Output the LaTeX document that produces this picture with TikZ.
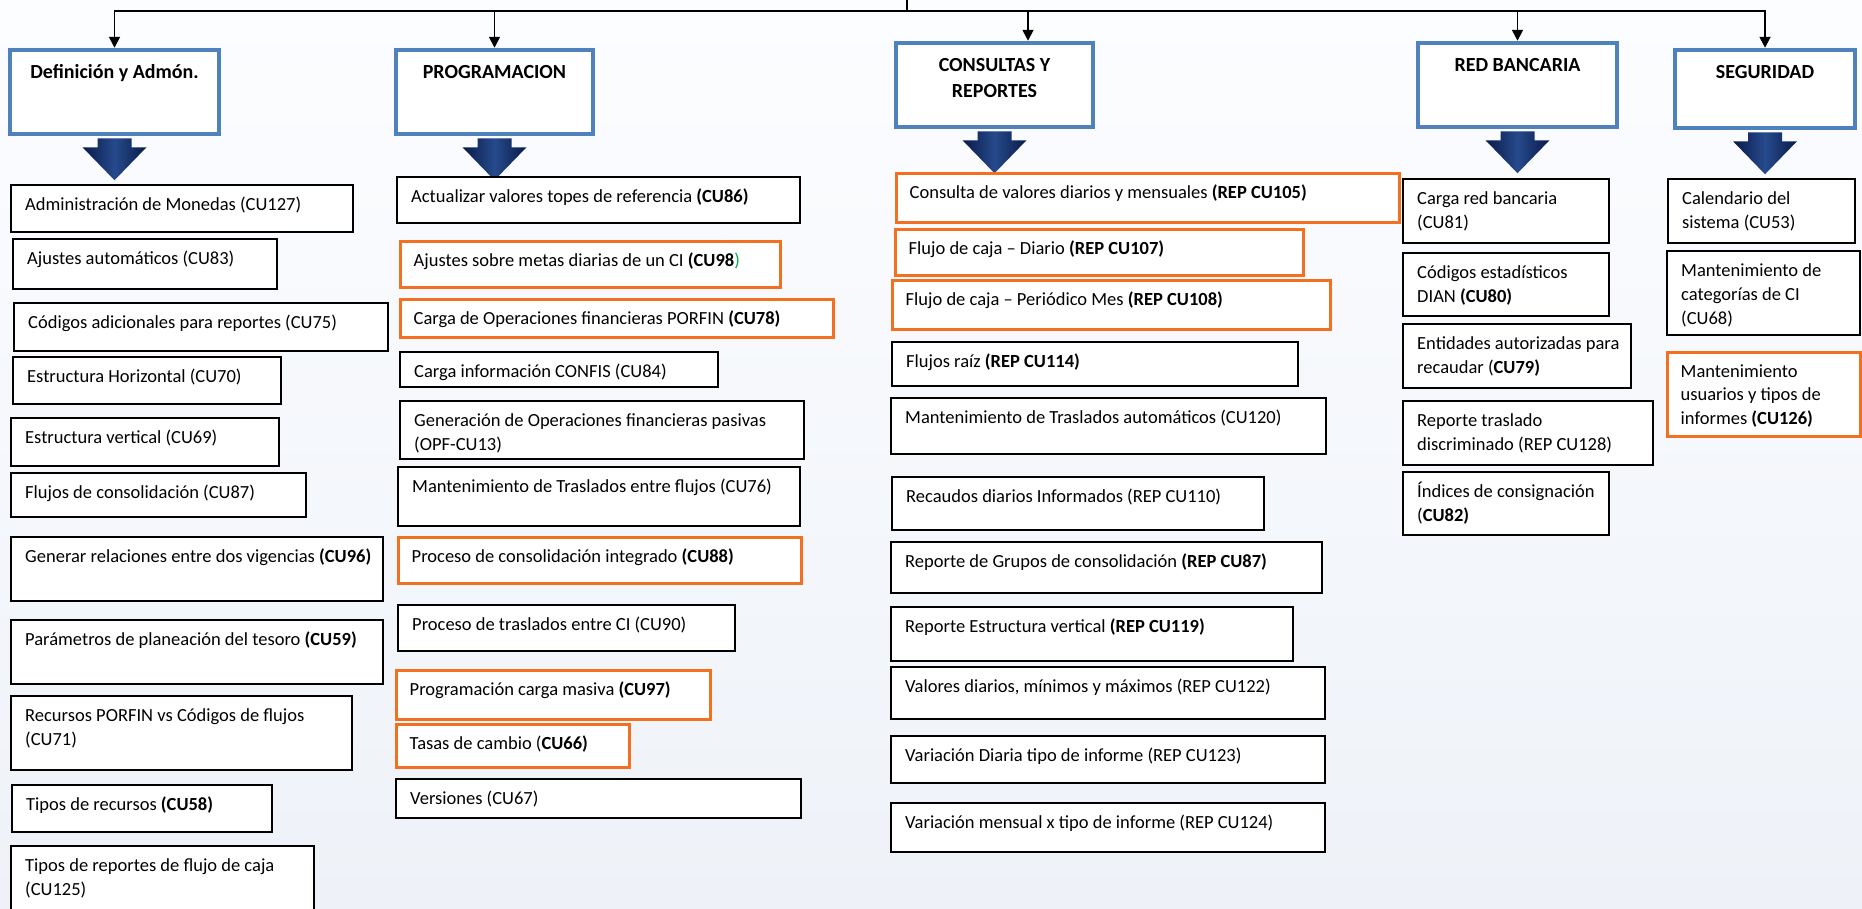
\documentclass[tikz,border=0pt]{standalone}
\usepackage{fontspec}
\setmainfont{Carlito}
\usetikzlibrary{arrows.meta}
\definecolor{hdrblue}{RGB}{79,129,189}
\definecolor{orng}{RGB}{242,112,32}
\definecolor{cugreen}{RGB}{0,176,80}
\definecolor{arrdark}{RGB}{10,26,72}
\definecolor{arrmid}{RGB}{38,74,140}
\definecolor{bgtop}{RGB}{252,253,255}
\definecolor{bgbot}{RGB}{238,242,248}
\tikzset{
 itembox/.style={draw=black, line width=2pt, fill=white, inner sep=0pt, rectangle},
 orangebox/.style={draw=orng, line width=3pt, fill=white, inner sep=0pt, rectangle},
 hdrbox/.style={draw=hdrblue, line width=4.5pt, fill=white, inner sep=0pt, rectangle},
 itemtext/.style={anchor=north west, inner sep=0pt, align=left, font=\fontsize{18.5}{23.8}\selectfont},
 hdrtext/.style={anchor=north, inner sep=0pt, align=center, font=\bfseries\fontsize{20}{26}\selectfont},
 conn/.style={line width=1.8pt, -{Triangle[width=11pt,length=11pt]}},
 busline/.style={line width=1.8pt},
 bigarrow/.style={left color=arrdark, right color=arrdark, middle color=arrmid, draw=none}
}
\newcommand\itembx[7]{%
 \node[#1, minimum width=#5pt-#3pt, minimum height=#6pt-#4pt] (#2) at ({(#3+#5)/2},{(#4+#6)/2}) {};
 \node[itemtext] (#2-t) at ([xshift=15pt,yshift=-9.8pt]#2.north west) {\strut #7};
}
\newcommand\headbox[6]{%
 \node[hdrbox, minimum width=#4pt-#2pt, minimum height=#5pt-#3pt] (#1) at ({(#2+#4)/2},{(#3+#5)/2}) {};
 \node[hdrtext] (#1-t) at ([yshift=-12.8pt]#1.north) {\strut #6};
}
\newcommand\bigarr[1]{%
 \shade[bigarrow] ([xshift=-17pt,yshift=-2pt]#1.south) -- ([xshift=-17pt,yshift=-11pt]#1.south) -- ([xshift=-32pt,yshift=-11pt]#1.south) -- ([yshift=-44pt]#1.south) -- ([xshift=32pt,yshift=-11pt]#1.south) -- ([xshift=17pt,yshift=-11pt]#1.south) -- ([xshift=17pt,yshift=-2pt]#1.south) -- cycle;
}
\begin{document}
\begin{tikzpicture}[x=1pt,y=-1pt]
\useasboundingbox (0,0) rectangle (1862,908);
\clip (0,0) rectangle (1862,908);
\shade[top color=bgtop, bottom color=bgbot] (0,0) rectangle (1862,908);

% headers
\headbox{hdef}{10}{50}{219}{134}{Definición y Admón.}
\headbox{hprog}{396}{50}{593}{134}{PROGRAMACION}
\headbox{hcons}{896}{43}{1093}{127}{CONSULTAS Y\\REPORTES}
\headbox{hred}{1418}{43}{1617}{127}{RED BANCARIA}
\headbox{hseg}{1675}{50}{1855}{128}{SEGURIDAD}

% top bus
\coordinate (src) at (907,0);
\coordinate (bus) at (907,11);
\draw[busline] (src) -- (bus);
\draw[conn] (bus) -| (hdef.north);
\draw[conn] (bus) -| (hprog.north);
\draw[conn] (bus) -| ([xshift=33.5pt]hcons.north);
\draw[conn] (bus) -| (hred.north);
\draw[conn] (bus) -| (hseg.north);

% big arrows
\bigarr{hdef}
\bigarr{hprog}
\bigarr{hcons}
\bigarr{hred}
\bigarr{hseg}

% column 1
\itembx{itembox}{c1a}{11}{185}{353}{232}{Administración de Monedas (CU127)}
\itembx{itembox}{c1b}{13}{239}{277}{289}{Ajustes automáticos (CU83)}
\itembx{itembox}{c1c}{14}{303}{388}{351}{Códigos adicionales\ para reportes (CU75)}
\itembx{itembox}{c1d}{13}{357}{281}{404}{Estructura Horizontal (CU70)}
\itembx{itembox}{c1e}{11}{418}{279}{466}{Estructura vertical (CU69)}
\itembx{itembox}{c1f}{11}{473}{306}{517}{Flujos de consolidación (CU87)}
\itembx{itembox}{c1g}{11}{537}{383}{601}{Generar relaciones entre dos vigencias \textbf{(CU96)}}
\itembx{itembox}{c1h}{11}{620}{383}{684}{Parámetros de planeación del tesoro \textbf{(CU59)}}
\itembx{itembox}{c1i}{11}{696}{352}{770}{Recursos PORFIN vs Códigos de flujos\\(CU71)}
\itembx{itembox}{c1j}{12}{785}{272}{832}{Tipos de recursos \textbf{(CU58)}}
\itembx{itembox}{c1k}{11}{846}{314}{916}{Tipos de reportes de flujo de caja\\(CU125)}

% column 2
\itembx{itembox}{c2a}{397}{177}{800}{223}{Actualizar valores topes de referencia \textbf{(CU86)}}
\itembx{orangebox}{c2b}{400}{241}{780}{287}{Ajustes sobre metas diarias de un CI \textbf{(CU98}\textcolor{cugreen}{)}}
\itembx{orangebox}{c2c}{400}{299}{833}{337}{Carga de Operaciones financieras PORFIN \textbf{(CU78)}}
\itembx{itembox}{c2d}{400}{352}{718}{387}{Carga información CONFIS (CU84)}
\itembx{itembox}{c2e}{400}{401}{804}{459}{Generación de Operaciones financieras pasivas\\(OPF-CU13)}
\itembx{itembox}{c2f}{398}{467}{800}{526}{Mantenimiento\ de Traslados entre flujos (CU76)}
\itembx{orangebox}{c2g}{398}{537}{801}{583}{Proceso de consolidación integrado \textbf{(CU88)}}
\itembx{itembox}{c2h}{398}{605}{735}{651}{Proceso de traslados entre CI (CU90)}
\itembx{orangebox}{c2i}{396}{670}{710}{719}{Programación carga masiva \textbf{(CU97)}}
\itembx{orangebox}{c2j}{396}{724}{629}{767}{Tasas de cambio (\textbf{CU66)}}
\itembx{itembox}{c2k}{396}{779}{801}{818}{Versiones (CU67)}

% column 3
\itembx{orangebox}{c3a}{896}{173}{1399}{222}{Consulta de valores diarios y mensuales \textbf{(REP CU105)}}
\itembx{orangebox}{c3b}{895}{229}{1303}{275}{Flujo de caja – Diario \textbf{(REP CU107)}}
\itembx{orangebox}{c3c}{892}{280}{1330}{329}{Flujo de caja – Periódico Mes \textbf{(REP CU108)}}
\itembx{itembox}{c3d}{892}{342}{1298}{386}{Flujos raíz \textbf{(REP CU114)}}
\itembx{itembox}{c3e}{891}{398}{1326}{454}{Mantenimiento\ de Traslados automáticos (CU120)}
\itembx{itembox}{c3f}{892}{477}{1264}{530}{Recaudos diarios Informados (REP CU110)}
\itembx{itembox}{c3g}{891}{542}{1322}{593}{Reporte de Grupos de consolidación \textbf{(REP CU87)}}
\itembx{itembox}{c3h}{891}{607}{1293}{661}{Reporte Estructura vertical \textbf{(REP CU119)}}
\itembx{itembox}{c3i}{891}{667}{1325}{719}{Valores diarios, mínimos y máximos (REP CU122)}
\itembx{itembox}{c3j}{891}{736}{1325}{783}{Variación Diaria tipo de informe (REP CU123)}
\itembx{itembox}{c3k}{891}{803}{1325}{852}{Variación mensual x tipo de informe (REP CU124)}

% column 4
\itembx{itembox}{c4a}{1403}{179}{1609}{243}{Carga red bancaria\\(CU81)}
\itembx{itembox}{c4b}{1403}{253}{1609}{316}{Códigos estadísticos\\DIAN \textbf{(CU80)}}
\itembx{itembox}{c4c}{1403}{324}{1631}{388}{Entidades autorizadas para\\recaudar (\textbf{CU79)}}
\itembx{itembox}{c4d}{1403}{401}{1653}{465}{Reporte traslado\\discriminado (REP CU128)}
\itembx{itembox}{c4e}{1403}{472}{1609}{535}{Índices de consignación\\(\textbf{CU82)}}

% column 5
\itembx{itembox}{c5a}{1668}{179}{1855}{243}{Calendario del\\sistema (CU53)}
\itembx{itembox}{c5b}{1667}{251}{1860}{335}{Mantenimiento de\\categorías de CI\\(CU68)}
\itembx{orangebox}{c5c}{1667}{352}{1860}{436}{Mantenimiento\\usuarios y tipos de\\informes \textbf{(CU126)}}
\end{tikzpicture}
\end{document}
